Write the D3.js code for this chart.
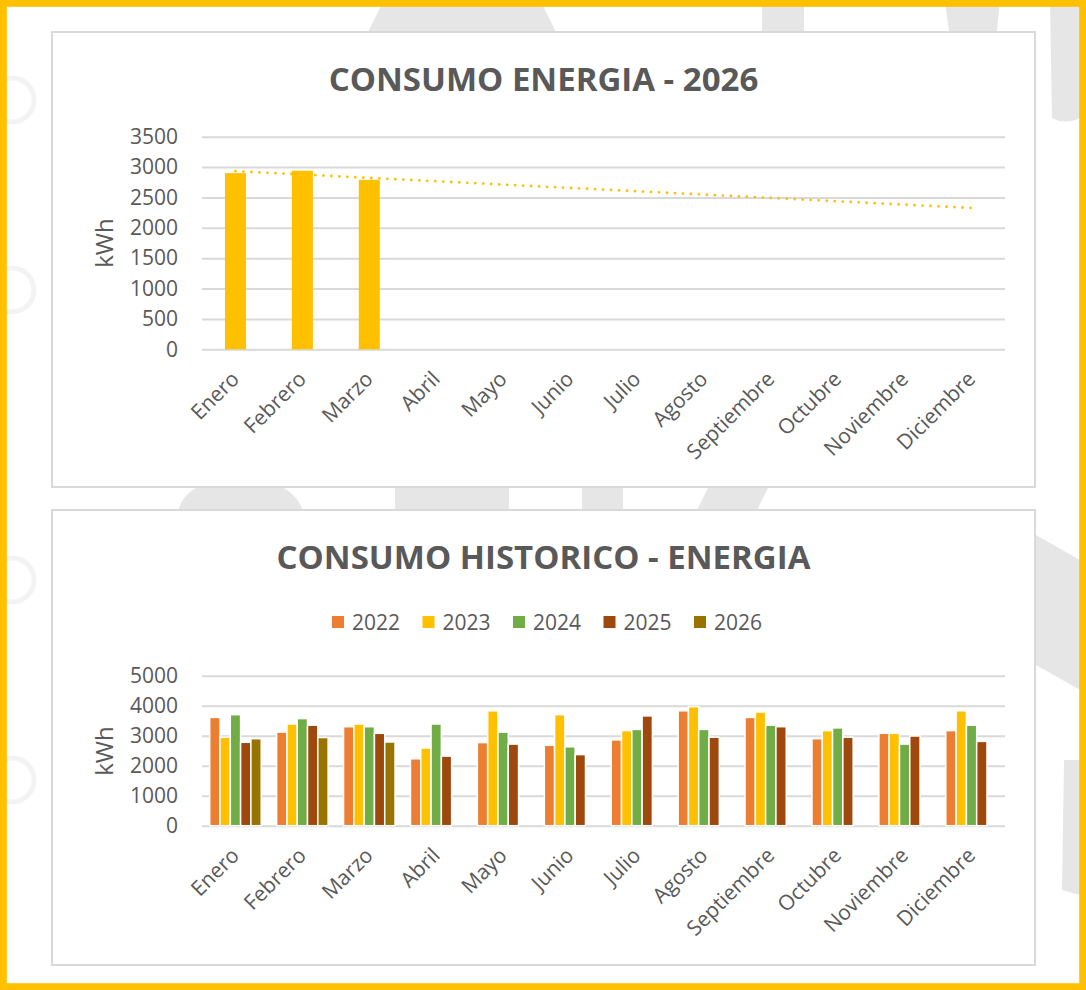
<!DOCTYPE html>
<html>
<head>
<meta charset="utf-8">
<script src="https://cdn.jsdelivr.net/npm/d3@7"></script>
<style>
  body { margin: 0; background: #fff; }
  text { font-family: "Open Sans", sans-serif; fill: #595959; }
</style>
</head>
<body>
<svg width="1086" height="990"></svg>
<script>
// data
var months = ["Enero", "Febrero", "Marzo", "Abril", "Mayo", "Junio", "Julio",
  "Agosto", "Septiembre", "Octubre", "Noviembre", "Diciembre"];
var consumo2026 = [2900, 2940, 2790, null, null, null, null, null, null, null, null, null];

var years = ["2022", "2023", "2024", "2025", "2026"];
var hist2022 = [3610, 3120, 3300, 2230, 2770, 2680, 2860, 3830, 3610, 2900, 3080, 3170];
var hist2023 = [2950, 3390, 3390, 2590, 3830, 3700, 3170, 3970, 3790, 3170, 3080, 3830];
var hist2024 = [3700, 3570, 3300, 3390, 3120, 2630, 3210, 3210, 3350, 3260, 2720, 3350];
var hist2025 = [2780, 3350, 3080, 2320, 2720, 2370, 3660, 2950, 3300, 2950, 2990, 2810];
var hist2026 = consumo2026;

var yTicks1 = [0, 500, 1000, 1500, 2000, 2500, 3000, 3500];
var yTicks2 = [0, 1000, 2000, 3000, 4000, 5000];

var colors = {"2022": "#ED7D31", "2023": "#FFC000", "2024": "#70AD47", "2025": "#9E480E", "2026": "#997300"};

/* page set up */
var svg = d3.select("svg"),
    W = 1086, H = 990,
    plotLeft = 202, plotRight = 1005;

// faint watermark shapes behind the panels
var wm = svg.append("g").attr("fill", "#e6e6e6");
wm.append("path").attr("d", "M384,0 L540,0 L560,40 L364,40 Z");
wm.append("rect").attr("x", 762).attr("y", 0).attr("width", 42).attr("height", 40);
wm.append("path").attr("d", "M945,0 L1000,0 L996,40 L950,40 Z");
wm.append("path").attr("d", "M1050,0 L1080,0 L1080,118 Q1065,125 1052,118 Z");
wm.append("path").attr("d", "M1036,535 L1080,560 L1080,690 L1036,665 Z");
wm.append("path").attr("d", "M1064,760 L1080,760 L1080,895 L1062,890 Z");
wm.append("path").attr("d", "M177,520 Q178,480 240,478 Q300,480 305,520 Z");
wm.append("rect").attr("x", 395).attr("y", 480).attr("width", 114).attr("height", 40);
wm.append("path").attr("d", "M582,480 L623,480 L623,520 L582,520 Z");
wm.append("path").attr("d", "M712,480 L772,480 L752,520 L692,520 Z");
svg.append("g").attr("fill", "none").attr("stroke", "#f3f3f3").attr("stroke-width", 5)
  .selectAll("circle").data([100, 290, 580, 780]).enter().append("circle")
  .attr("cx", 12).attr("cy", function(d) { return d; }).attr("r", 22);

// yellow frame
svg.append("rect")
  .attr("x", 3.4).attr("y", 3.4).attr("width", W - 6.8).attr("height", H - 6.8)
  .attr("fill", "none").attr("stroke", "#FFC000").attr("stroke-width", 6.8);

// chart panels
[32, 510].forEach(function(top) {
  svg.append("rect")
    .attr("x", 52).attr("y", top).attr("width", 983).attr("height", 455)
    .attr("fill", "#fff").attr("stroke", "#d9d9d9").attr("stroke-width", 2);
});

function styleYAxis(g) {
  g.select(".domain").remove();
  g.selectAll("line").attr("stroke", "#d9d9d9").attr("stroke-width", 2);
  g.selectAll("text").attr("font-size", "21px").attr("fill", "#595959")
    .style("font-family", "'Open Sans', sans-serif");
}

function styleXAxis(g) {
  g.select(".domain").remove();
  g.selectAll("line").remove();
  g.selectAll("text")
    .attr("x", 0).attr("y", 0).attr("dy", 0)
    .attr("text-anchor", "end")
    .attr("transform", "translate(5,31) rotate(-45)")
    .attr("font-size", "21px").attr("fill", "#595959")
    .style("font-family", "'Open Sans', sans-serif");
}

var x = d3.scaleBand().domain(months).range([plotLeft, plotRight]).padding(0);

/* ---- chart 1: consumo 2026 ---- */
var y1 = d3.scaleLinear().domain([0, 3500]).range([349.3, 136.7]);

svg.append("text")
  .attr("x", 543.5).attr("y", 90.5)
  .attr("text-anchor", "middle")
  .attr("font-size", "33px").attr("font-weight", "bold")
  .text("CONSUMO ENERGIA - 2026");

svg.append("g")
  .attr("transform", "translate(" + plotLeft + ",0)")
  .call(d3.axisLeft(y1).tickValues(yTicks1).tickFormat(d3.format("d"))
    .tickSize(-(plotRight - plotLeft)).tickPadding(24))
  .call(styleYAxis);

svg.append("text")
  .attr("transform", "translate(113,243) rotate(-90)")
  .attr("text-anchor", "middle")
  .attr("font-size", "24px")
  .text("kWh");

svg.append("g")
  .attr("transform", "translate(0," + y1(0) + ")")
  .call(d3.axisBottom(x).tickSize(0))
  .call(styleXAxis);

var barW = x.bandwidth() * 0.314;
svg.append("g").selectAll("rect")
  .data(months.map(function(m, i) { return {month: m, value: consumo2026[i]}; })
    .filter(function(d) { return d.value != null; }))
  .enter().append("rect")
  .attr("x", function(d) { return x(d.month) + (x.bandwidth() - barW) / 2; })
  .attr("y", function(d) { return y1(d.value); })
  .attr("width", barW)
  .attr("height", function(d) { return y1(0) - y1(d.value); })
  .attr("fill", "#FFC000");

// linear trendline (least squares over the months with data)
var pts = consumo2026.map(function(v, i) { return [i + 1, v]; })
  .filter(function(p) { return p[1] != null; });
var mx = d3.mean(pts, function(p) { return p[0]; }),
    my = d3.mean(pts, function(p) { return p[1]; });
var slope = d3.sum(pts, function(p) { return (p[0] - mx) * (p[1] - my); }) /
            d3.sum(pts, function(p) { return (p[0] - mx) * (p[0] - mx); });
var trend = [1, months.length].map(function(k) {
  return {month: months[k - 1], value: my + slope * (k - mx)};
});
var line = d3.line()
  .x(function(d) { return x(d.month) + x.bandwidth() / 2; })
  .y(function(d) { return y1(d.value); });
svg.append("path")
  .datum(trend)
  .attr("d", line)
  .attr("fill", "none")
  .attr("stroke", "#FFC000")
  .attr("stroke-width", 2.8)
  .attr("stroke-linecap", "round")
  .attr("stroke-dasharray", "0,8");

/* ---- chart 2: consumo historico ---- */
var y2 = d3.scaleLinear().domain([0, 5000]).range([825.7, 675.7]);
var x1 = d3.scaleBand().domain(years).range([0, x.bandwidth()]).paddingInner(0).paddingOuter(0.75);

var series = {"2022": hist2022, "2023": hist2023, "2024": hist2024, "2025": hist2025, "2026": hist2026};

svg.append("text")
  .attr("x", 543.5).attr("y", 569)
  .attr("text-anchor", "middle")
  .attr("font-size", "33px").attr("font-weight", "bold")
  .text("CONSUMO HISTORICO - ENERGIA");

// legend
var legend = svg.append("g").selectAll("g")
  .data(years)
  .enter().append("g")
  .attr("transform", function(d, i) { return "translate(" + (332 + i * 90.5) + ",616)"; });
legend.append("rect").attr("width", 12).attr("height", 12)
  .attr("fill", function(d) { return colors[d]; });
legend.append("text").attr("x", 20).attr("y", 6).attr("dy", "0.36em")
  .attr("font-size", "21px").text(function(d) { return d; });

svg.append("g")
  .attr("transform", "translate(" + plotLeft + ",0)")
  .call(d3.axisLeft(y2).tickValues(yTicks2).tickFormat(d3.format("d"))
    .tickSize(-(plotRight - plotLeft)).tickPadding(24))
  .call(styleYAxis);

svg.append("text")
  .attr("transform", "translate(113,751) rotate(-90)")
  .attr("text-anchor", "middle")
  .attr("font-size", "24px")
  .text("kWh");

svg.append("g")
  .attr("transform", "translate(0," + y2(0) + ")")
  .call(d3.axisBottom(x).tickSize(0))
  .call(styleXAxis);

var groups = svg.append("g").selectAll("g")
  .data(months)
  .enter().append("g")
  .attr("transform", function(m) { return "translate(" + x(m) + ",0)"; });

groups.selectAll("rect")
  .data(function(m, i) {
    return years.map(function(yr) { return {year: yr, value: series[yr][i]}; })
      .filter(function(d) { return d.value != null; });
  })
  .enter().append("rect")
  .attr("x", function(d) { return x1(d.year); })
  .attr("y", function(d) { return y2(d.value); })
  .attr("width", x1.bandwidth())
  .attr("height", function(d) { return y2(0) - y2(d.value); })
  .attr("fill", function(d) { return colors[d.year]; })
  .attr("stroke", "#fff")
  .attr("stroke-width", 1.5);
</script>
</body>
</html>
